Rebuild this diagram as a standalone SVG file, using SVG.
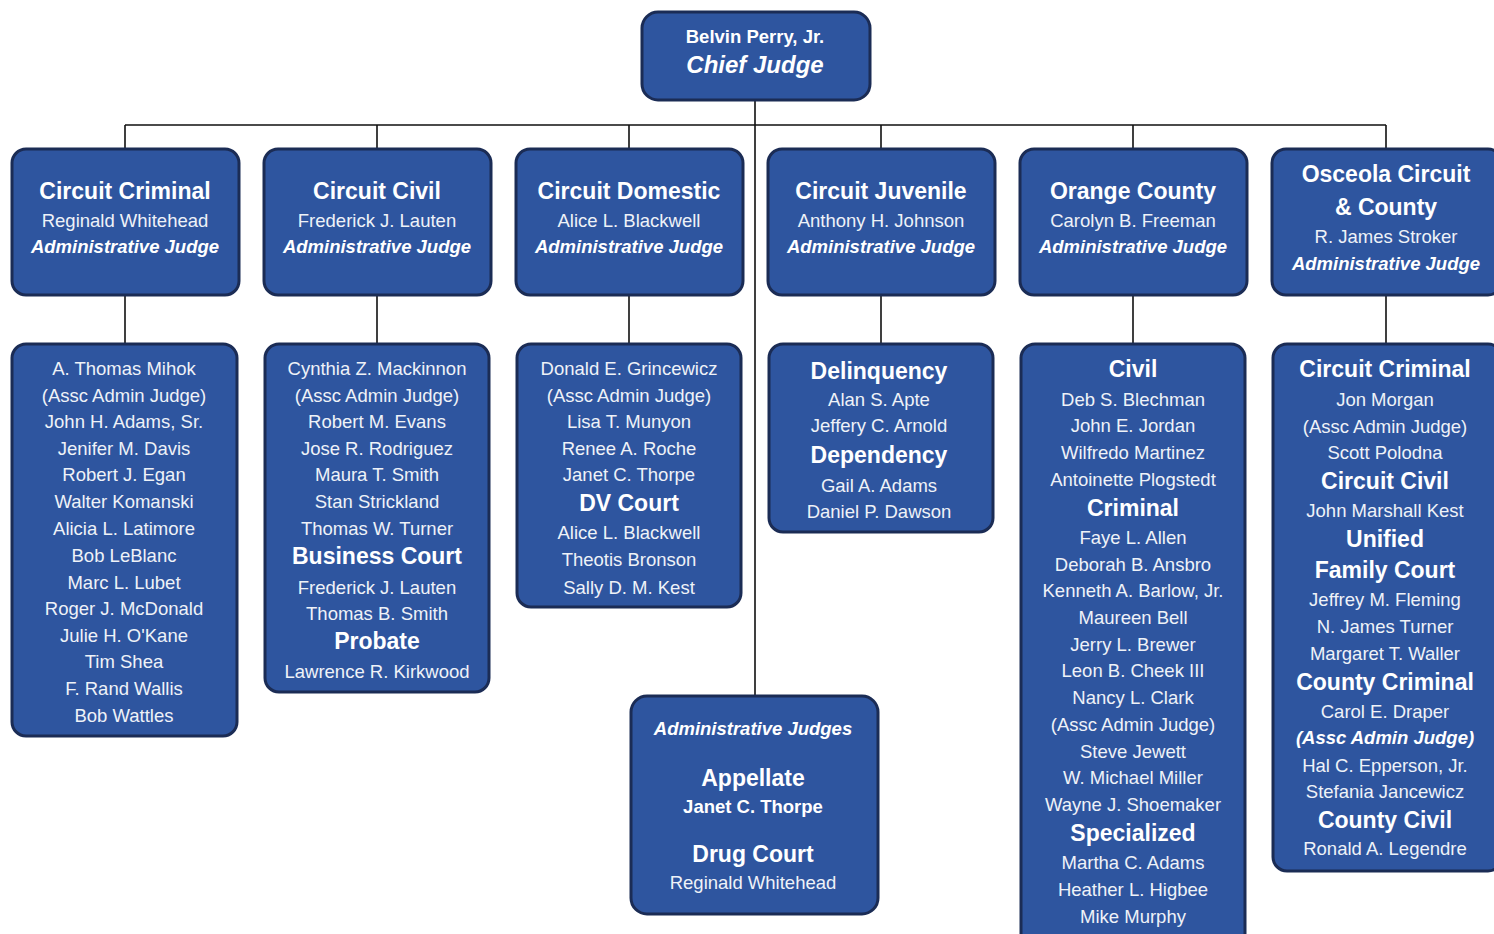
<svg xmlns="http://www.w3.org/2000/svg" width="1494" height="934" viewBox="0 0 1494 934">
<style>
.box{fill:#2e559f;stroke:#1b2c55;stroke-width:3}
.ln{stroke:#111;stroke-width:1.6;fill:none}
text{font-family:"Liberation Sans",Arial,sans-serif;text-anchor:middle;fill:#eef2f8}
.h{font-weight:bold;font-size:23px;fill:#fff}
.n{font-size:18.5px}
.a{font-weight:bold;font-style:italic;font-size:18.5px;fill:#fff}
.b{font-weight:bold;font-size:18.5px;fill:#fff}
</style>
<rect width="1494" height="934" fill="#fff"/>
<g id="connectors">
<path class="ln" d="M755 101V695M125 125H1386M125 125V148M377 125V148M629 125V148M881 125V148M1133 125V148M1386 125V148M125 296V343M377 296V343M629 296V343M881 296V343M1133 296V343M1386 296V343"/>
</g>
<g id="chief">
<rect class="box" x="642" y="12" width="228" height="88" rx="16"/>
<text class="b" x="755" y="43">Belvin Perry, Jr.</text>
<text class="a" x="755" y="73" style="font-size:24px">Chief Judge</text>
</g>
<g id="circuit-criminal">
<rect class="box" x="12" y="149" width="227" height="146" rx="14"/>
<text class="h" x="125" y="199">Circuit Criminal</text>
<text class="n" x="125" y="227">Reginald Whitehead</text>
<text class="a" x="125" y="253">Administrative Judge</text>
</g>
<g id="circuit-civil">
<rect class="box" x="264" y="149" width="227" height="146" rx="14"/>
<text class="h" x="377" y="199">Circuit Civil</text>
<text class="n" x="377" y="227">Frederick J. Lauten</text>
<text class="a" x="377" y="253">Administrative Judge</text>
</g>
<g id="circuit-domestic">
<rect class="box" x="516" y="149" width="227" height="146" rx="14"/>
<text class="h" x="629" y="199">Circuit Domestic</text>
<text class="n" x="629" y="227">Alice L. Blackwell</text>
<text class="a" x="629" y="253">Administrative Judge</text>
</g>
<g id="circuit-juvenile">
<rect class="box" x="768" y="149" width="227" height="146" rx="14"/>
<text class="h" x="881" y="199">Circuit Juvenile</text>
<text class="n" x="881" y="227">Anthony H. Johnson</text>
<text class="a" x="881" y="253">Administrative Judge</text>
</g>
<g id="orange-county">
<rect class="box" x="1020" y="149" width="227" height="146" rx="14"/>
<text class="h" x="1133" y="199">Orange County</text>
<text class="n" x="1133" y="227">Carolyn B. Freeman</text>
<text class="a" x="1133" y="253">Administrative Judge</text>
</g>
<g id="osceola">
<rect class="box" x="1272" y="149" width="230" height="146" rx="14"/>
<text class="h" x="1386" y="182">Osceola Circuit</text>
<text class="h" x="1386" y="215">&amp; County</text>
<text class="n" x="1386" y="243">R. James Stroker</text>
<text class="a" x="1386" y="270">Administrative Judge</text>
</g>
<g id="criminal-judges">
<rect class="box" x="12" y="344" width="225" height="392" rx="14"/>
<text class="n" x="124" y="375">A. Thomas Mihok</text>
<text class="n" x="124" y="402">(Assc Admin Judge)</text>
<text class="n" x="124" y="428">John H. Adams, Sr.</text>
<text class="n" x="124" y="455">Jenifer M. Davis</text>
<text class="n" x="124" y="481">Robert J. Egan</text>
<text class="n" x="124" y="508">Walter Komanski</text>
<text class="n" x="124" y="535">Alicia L. Latimore</text>
<text class="n" x="124" y="562">Bob LeBlanc</text>
<text class="n" x="124" y="589">Marc L. Lubet</text>
<text class="n" x="124" y="615">Roger J. McDonald</text>
<text class="n" x="124" y="642">Julie H. O'Kane</text>
<text class="n" x="124" y="668">Tim Shea</text>
<text class="n" x="124" y="695">F. Rand Wallis</text>
<text class="n" x="124" y="722">Bob Wattles</text>
</g>
<g id="civil-judges">
<rect class="box" x="265" y="344" width="224" height="348" rx="14"/>
<text class="n" x="377" y="375">Cynthia Z. Mackinnon</text>
<text class="n" x="377" y="402">(Assc Admin Judge)</text>
<text class="n" x="377" y="428">Robert M. Evans</text>
<text class="n" x="377" y="455">Jose R. Rodriguez</text>
<text class="n" x="377" y="481">Maura T. Smith</text>
<text class="n" x="377" y="508">Stan Strickland</text>
<text class="n" x="377" y="535">Thomas W. Turner</text>
<text class="h" x="377" y="564">Business Court</text>
<text class="n" x="377" y="594">Frederick J. Lauten</text>
<text class="n" x="377" y="620">Thomas B. Smith</text>
<text class="h" x="377" y="649">Probate</text>
<text class="n" x="377" y="678">Lawrence R. Kirkwood</text>
</g>
<g id="domestic-judges">
<rect class="box" x="517" y="344" width="224" height="263" rx="14"/>
<text class="n" x="629" y="375">Donald E. Grincewicz</text>
<text class="n" x="629" y="402">(Assc Admin Judge)</text>
<text class="n" x="629" y="428">Lisa T. Munyon</text>
<text class="n" x="629" y="455">Renee A. Roche</text>
<text class="n" x="629" y="481">Janet C. Thorpe</text>
<text class="h" x="629" y="511">DV Court</text>
<text class="n" x="629" y="539">Alice L. Blackwell</text>
<text class="n" x="629" y="566">Theotis Bronson</text>
<text class="n" x="629" y="594">Sally D. M. Kest</text>
</g>
<g id="juvenile-judges">
<rect class="box" x="769" y="344" width="224" height="188" rx="14"/>
<text class="h" x="879" y="379">Delinquency</text>
<text class="n" x="879" y="406">Alan S. Apte</text>
<text class="n" x="879" y="432">Jeffery C. Arnold</text>
<text class="h" x="879" y="463">Dependency</text>
<text class="n" x="879" y="492">Gail A. Adams</text>
<text class="n" x="879" y="518">Daniel P. Dawson</text>
</g>
<g id="orange-judges">
<rect class="box" x="1021" y="344" width="224" height="610" rx="14"/>
<text class="h" x="1133" y="377">Civil</text>
<text class="n" x="1133" y="406">Deb S. Blechman</text>
<text class="n" x="1133" y="432">John E. Jordan</text>
<text class="n" x="1133" y="459">Wilfredo Martinez</text>
<text class="n" x="1133" y="486">Antoinette Plogstedt</text>
<text class="h" x="1133" y="516">Criminal</text>
<text class="n" x="1133" y="544">Faye L. Allen</text>
<text class="n" x="1133" y="571">Deborah B. Ansbro</text>
<text class="n" x="1133" y="597">Kenneth A. Barlow, Jr.</text>
<text class="n" x="1133" y="624">Maureen Bell</text>
<text class="n" x="1133" y="651">Jerry L. Brewer</text>
<text class="n" x="1133" y="677">Leon B. Cheek III</text>
<text class="n" x="1133" y="704">Nancy L. Clark</text>
<text class="n" x="1133" y="731">(Assc Admin Judge)</text>
<text class="n" x="1133" y="758">Steve Jewett</text>
<text class="n" x="1133" y="784">W. Michael Miller</text>
<text class="n" x="1133" y="811">Wayne J. Shoemaker</text>
<text class="h" x="1133" y="841">Specialized</text>
<text class="n" x="1133" y="869">Martha C. Adams</text>
<text class="n" x="1133" y="896">Heather L. Higbee</text>
<text class="n" x="1133" y="923">Mike Murphy</text>
</g>
<g id="osceola-judges">
<rect class="box" x="1273" y="344" width="229" height="527" rx="14"/>
<text class="h" x="1385" y="377">Circuit Criminal</text>
<text class="n" x="1385" y="406">Jon Morgan</text>
<text class="n" x="1385" y="433">(Assc Admin Judge)</text>
<text class="n" x="1385" y="459">Scott Polodna</text>
<text class="h" x="1385" y="489">Circuit Civil</text>
<text class="n" x="1385" y="517">John Marshall Kest</text>
<text class="h" x="1385" y="547">Unified</text>
<text class="h" x="1385" y="578">Family Court</text>
<text class="n" x="1385" y="606">Jeffrey M. Fleming</text>
<text class="n" x="1385" y="633">N. James Turner</text>
<text class="n" x="1385" y="660">Margaret T. Waller</text>
<text class="h" x="1385" y="690">County Criminal</text>
<text class="n" x="1385" y="718">Carol E. Draper</text>
<text class="a" x="1385" y="744">(Assc Admin Judge)</text>
<text class="n" x="1385" y="772">Hal C. Epperson, Jr.</text>
<text class="n" x="1385" y="798">Stefania Jancewicz</text>
<text class="h" x="1385" y="828">County Civil</text>
<text class="n" x="1385" y="855">Ronald A. Legendre</text>
</g>
<g id="admin-judges">
<rect class="box" x="631" y="696" width="247" height="218" rx="16"/>
<text class="a" x="753" y="735">Administrative Judges</text>
<text class="h" x="753" y="786">Appellate</text>
<text class="b" x="753" y="813">Janet C. Thorpe</text>
<text class="h" x="753" y="862">Drug Court</text>
<text class="n" x="753" y="889">Reginald Whitehead</text>
</g>
</svg>
